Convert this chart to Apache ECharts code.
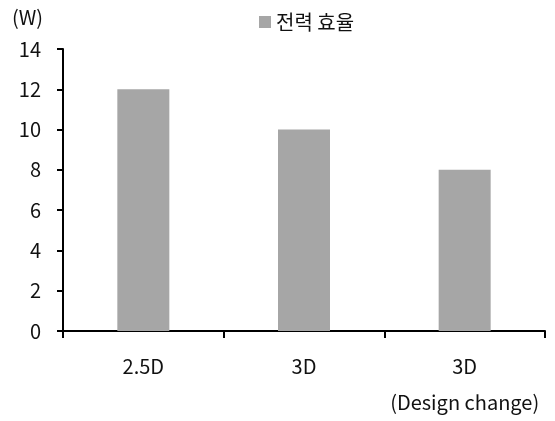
<!DOCTYPE html>
<html><head><meta charset="utf-8">
<script src="https://cdn.jsdelivr.net/npm/echarts@6/dist/echarts.min.js"></script>
<style>html,body{margin:0;padding:0;background:#fff}#c{width:555px;height:421px}</style>
</head><body><div id="c"></div>
<script>
const categories = ['2.5D', '3D', '3D\n(Design change)'];
const seriesName = '전력 효율';
const values = [12, 10, 8];
const unitLabel = '(W)';
const yMin = 0, yMax = 14, yInterval = 2;

const FONT = '"Noto Sans CJK KR", "Noto Sans", sans-serif';
const chart = echarts.init(document.getElementById('c'));
chart.setOption({
  animation: false,
  backgroundColor: '#fff',
  textStyle: { fontFamily: FONT },
  grid: { left: 63, right: 10, top: 49, bottom: 90 },
  legend: {
    data: [seriesName], top: 7, left: 254,
    itemWidth: 12, itemHeight: 12, itemGap: 8,
    icon: 'rect',
    textStyle: { fontSize: 20, color: '#111', fontFamily: FONT }
  },
  graphic: [{
    type: 'text', left: 12, top: 7,
    style: { text: unitLabel, fontSize: 20, fill: '#111', fontFamily: FONT }
  }],
  xAxis: {
    type: 'category', data: categories,
    axisLine: { lineStyle: { color: '#000', width: 2 } },
    axisTick: { show: true, length: 7, interval: 0, lineStyle: { color: '#000', width: 2 } },
    axisLabel: { color: '#111', fontSize: 20, margin: 17, lineHeight: 36, interval: 0, fontFamily: FONT }
  },
  yAxis: {
    type: 'value', min: yMin, max: yMax, interval: yInterval,
    splitLine: { show: false },
    axisLine: { show: true, lineStyle: { color: '#000', width: 2 } },
    axisTick: { show: true, length: 6, lineStyle: { color: '#000', width: 2 } },
    axisLabel: { color: '#111', fontSize: 20, margin: 22, fontFamily: FONT }
  },
  series: [{
    name: seriesName, type: 'bar', data: values,
    barWidth: 52,
    itemStyle: { color: '#a6a6a6' }
  }]
});
</script></body></html>
